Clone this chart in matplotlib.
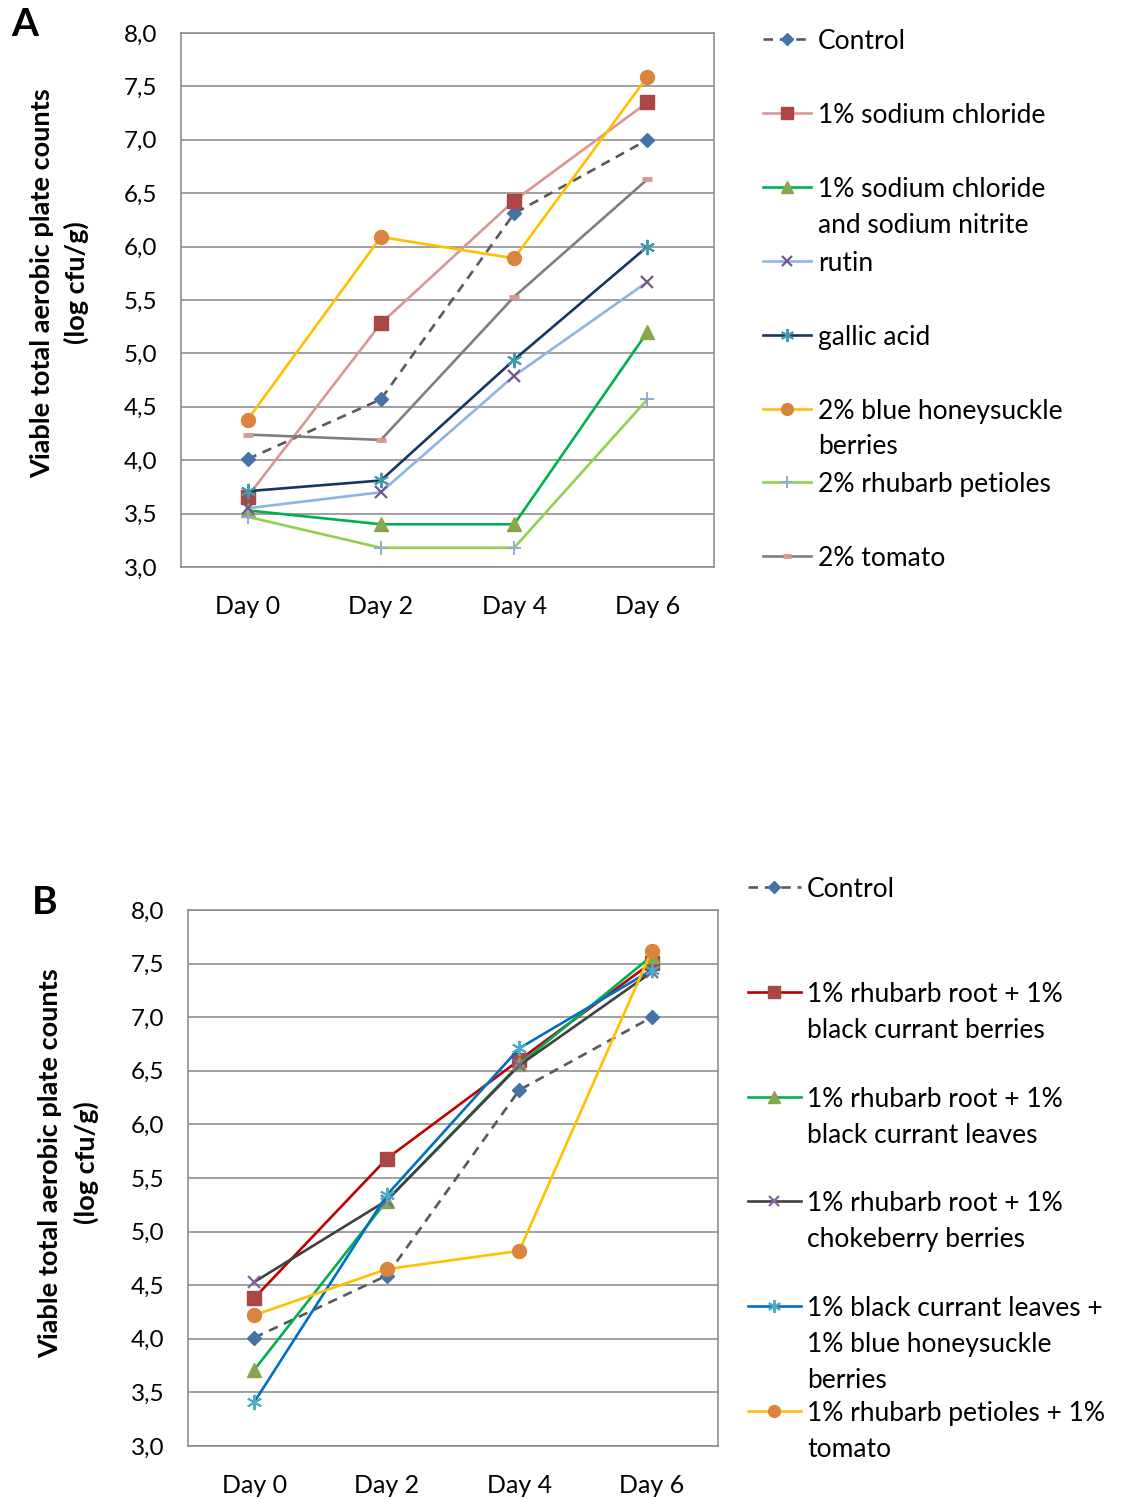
import matplotlib
matplotlib.use("Agg")
import matplotlib.pyplot as plt
from matplotlib.lines import Line2D

plt.rcParams['font.family'] = ['Lato', 'DejaVu Sans']

days = ["Day 0", "Day 2", "Day 4", "Day 6"]
yticks = [3.0, 3.5, 4.0, 4.5, 5.0, 5.5, 6.0, 6.5, 7.0, 7.5, 8.0]
ytick_labels = ["3,0", "3,5", "4,0", "4,5", "5,0", "5,5", "6,0", "6,5", "7,0", "7,5", "8,0"]

# Panel A
a_labels = ["Control", "1% sodium chloride", "1% sodium chloride\nand sodium nitrite",
            "rutin", "gallic acid", "2% blue honeysuckle\nberries",
            "2% rhubarb petioles", "2% tomato"]
a_control = [4.01, 4.57, 6.31, 7.00]
a_nacl = [3.66, 5.28, 6.43, 7.35]
a_nacl_nitrite = [3.53, 3.40, 3.40, 5.20]
a_rutin = [3.55, 3.70, 4.79, 5.67]
a_gallic = [3.71, 3.81, 4.94, 6.00]
a_honeysuckle = [4.38, 6.09, 5.89, 7.59]
a_rhubarb = [3.47, 3.18, 3.18, 4.57]
a_tomato = [4.24, 4.19, 5.53, 6.63]
a_values = [a_control, a_nacl, a_nacl_nitrite, a_rutin, a_gallic,
            a_honeysuckle, a_rhubarb, a_tomato]

# Panel B
b_labels = ["Control", "1% rhubarb root + 1%\nblack currant berries",
            "1% rhubarb root + 1%\nblack currant leaves",
            "1% rhubarb root + 1%\nchokeberry berries",
            "1% black currant leaves +\n1% blue honeysuckle\nberries",
            "1% rhubarb petioles + 1%\ntomato"]
b_control = [4.01, 4.59, 6.32, 7.00]
b_rr_bcb = [4.38, 5.68, 6.60, 7.51]
b_rr_bcl = [3.71, 5.29, 6.56, 7.57]
b_rr_choke = [4.53, 5.29, 6.55, 7.42]
b_bcl_bhb = [3.41, 5.34, 6.71, 7.44]
b_rp_tom = [4.22, 4.65, 4.82, 7.62]
b_values = [b_control, b_rr_bcb, b_rr_bcl, b_rr_choke, b_bcl_bhb, b_rp_tom]

STAR = (6, 2, 0)
DASH = (0, (3.6, 2.6))
a_styles = [
    dict(color='#595959', ls=DASH, marker='D', mfc='#4572A7', mec='#4572A7', ms=7.5, mew=1),
    dict(color='#DA9694', ls='-', marker='s', mfc='#AA4643', mec='#AA4643', ms=9.5, mew=1),
    dict(color='#00B050', ls='-', marker='^', mfc='#89A54E', mec='#89A54E', ms=10, mew=1),
    dict(color='#8DB4E2', ls='-', marker='x', mfc='#71588F', mec='#71588F', ms=9, mew=1.6),
    dict(color='#17375E', ls='-', marker=STAR, mfc='#4198AF', mec='#4198AF', ms=11, mew=1.4),
    dict(color='#FFC000', ls='-', marker='o', mfc='#DB843D', mec='#DB843D', ms=10, mew=1),
    dict(color='#92D050', ls='-', marker='+', mfc='#93A9CF', mec='#93A9CF', ms=10, mew=1.4),
    dict(color='#7F7F7F', ls='-', marker='_', mfc='#DA9694', mec='#DA9694', ms=7, mew=3.5),
]
b_styles = [
    dict(color='#595959', ls=DASH, marker='D', mfc='#4572A7', mec='#4572A7', ms=7.5, mew=1),
    dict(color='#C00000', ls='-', marker='s', mfc='#AA4643', mec='#AA4643', ms=10, mew=1),
    dict(color='#00B050', ls='-', marker='^', mfc='#89A54E', mec='#89A54E', ms=10, mew=1),
    dict(color='#404040', ls='-', marker='x', mfc='#8064A2', mec='#8064A2', ms=9, mew=1.6),
    dict(color='#0070C0', ls='-', marker=STAR, mfc='#4BACC6', mec='#4BACC6', ms=11, mew=1.4),
    dict(color='#FFC000', ls='-', marker='o', mfc='#DB843D', mec='#DB843D', ms=10, mew=1),
]

W, H = 1123, 1499
fig = plt.figure(figsize=(W / 100, H / 100), dpi=100)

GRID = '#868686'
TICK_FS = 17.5
XTICK_FS = 18
LEG_FS = 19
YLAB_FS = 19.5


def px_rect(left, top, right, bottom):
    return [left / W, 1 - bottom / H, (right - left) / W, (bottom - top) / H]


def setup_axes(ax):
    ax.set_xlim(-0.5, 3.5)
    ax.set_ylim(3.0, 8.0)
    ax.set_yticks(yticks)
    ax.set_yticklabels(ytick_labels)
    ax.set_xticks(range(len(days)))
    ax.set_xticklabels(days)
    ax.tick_params(axis='y', length=0, pad=17, labelsize=TICK_FS, colors='black')
    ax.tick_params(axis='x', length=0, pad=20, labelsize=XTICK_FS, colors='black')
    ax.grid(axis='y', color=GRID, linewidth=1.1)
    ax.set_axisbelow(True)
    for s in ax.spines.values():
        s.set_color(GRID)
        s.set_linewidth(1.1)


def plot_series(ax, values, styles):
    for vals, st in zip(values, styles):
        ax.plot(range(len(days)), vals, color=st['color'], linestyle=st['ls'], linewidth=1.9,
                marker=st['marker'], markerfacecolor=st['mfc'], markeredgecolor=st['mec'],
                markersize=st['ms'], markeredgewidth=st['mew'], clip_on=False)


def draw_legend(labels, styles, x0, x1, xtext, y_first, slot, line_h):
    for i, (lab, st) in enumerate(zip(labels, styles)):
        yc = y_first + i * slot
        yf = 1 - yc / H
        ln = Line2D([x0 / W, x1 / W], [yf, yf], transform=fig.transFigure,
                    color=st['color'], linestyle=st['ls'], linewidth=1.9)
        fig.add_artist(ln)
        mk = Line2D([(x0 + x1) / 2 / W], [yf], transform=fig.transFigure, linestyle='none',
                    marker=st['marker'], markerfacecolor=st['mfc'], markeredgecolor=st['mec'],
                    markersize=st['ms'] * 0.85, markeredgewidth=st['mew'])
        fig.add_artist(mk)
        for j, part in enumerate(lab.split('\n')):
            fig.text(xtext / W, 1 - (yc + j * line_h) / H, part, fontsize=LEG_FS,
                     ha='left', va='center_baseline')


# Panel A
axA = fig.add_axes(px_rect(181, 33, 714, 567))
setup_axes(axA)
plot_series(axA, a_values, a_styles)
draw_legend(a_labels, a_styles, 763, 811, 818, 39, 73.9, 36)
fig.text(42 / W, 1 - 283 / H, "Viable total aerobic plate counts", rotation=90,
         fontsize=YLAB_FS, fontweight='bold', ha='center', va='center')
fig.text(76 / W, 1 - 283 / H, "(log cfu/g)", rotation=90,
         fontsize=YLAB_FS, fontweight='bold', ha='center', va='center')
fig.text(25 / W, 1 - 25 / H, "A", fontsize=28, fontweight='bold', ha='center', va='center')

# Panel B
axB = fig.add_axes(px_rect(188, 910, 718, 1446))
setup_axes(axB)
plot_series(axB, b_values, b_styles)
draw_legend(b_labels, b_styles, 748, 801, 807, 887, 104.8, 36)
fig.text(50 / W, 1 - 1163 / H, "Viable total aerobic plate counts", rotation=90,
         fontsize=YLAB_FS, fontweight='bold', ha='center', va='center')
fig.text(86 / W, 1 - 1163 / H, "(log cfu/g)", rotation=90,
         fontsize=YLAB_FS, fontweight='bold', ha='center', va='center')
fig.text(45 / W, 1 - 903 / H, "B", fontsize=28, fontweight='bold', ha='center', va='center')

fig.savefig("out.png", dpi=100, facecolor='white')
